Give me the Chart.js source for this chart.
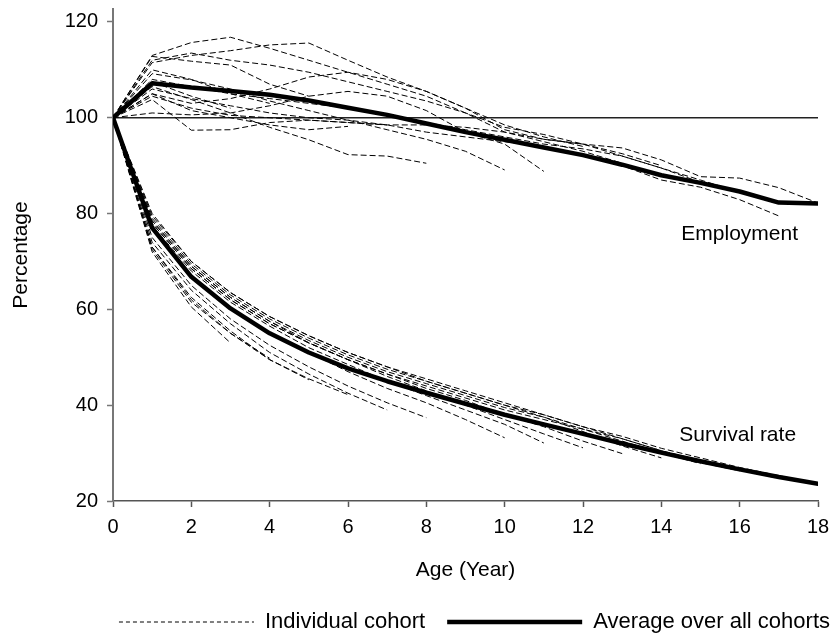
<!DOCTYPE html>
<html lang="en">
<head>
    <meta charset="UTF-8">
    <title>Survival rate and employment by cohort age</title>
    <script src="https://cdn.jsdelivr.net/npm/chart.js"></script>
    <style>
        html, body {
            margin: 0;
            padding: 0;
            background: #fff;
        }
        #wrap {
            width: 831px;
            height: 634px;
        }
    </style>
</head>
<body>
    <div id="wrap"><canvas id="chart" width="831" height="634"></canvas></div>

    <script>
        const years = [0, 1, 2, 3, 4, 5, 6, 7, 8, 9, 10, 11, 12, 13, 14, 15, 16, 17, 18];
        const yTicks = [20, 40, 60, 80, 100, 120];
        const xTicks = [0, 2, 4, 6, 8, 10, 12, 14, 16, 18];

        // survival rate of each cohort (%), one array per cohort, starting at age 0
        const survival18 = [100, 79, 69.5, 63, 58, 54, 50.5, 47.5, 45, 42.5, 40, 38, 35.5, 33.5, 31, 29, 27, 25.3, 23.6];
        const survival17 = [100, 78, 68.5, 62, 57, 53, 49.5, 46.5, 44, 41.5, 39, 37, 35, 33, 30.5, 28.5, 26.5, 24.7];
        const survival16 = [100, 80, 70, 63.5, 58.5, 54.5, 51, 48, 45.5, 43, 40.5, 38, 35.5, 33, 30.5, 28, 26.3];
        const survival15 = [100, 78.5, 69, 62.5, 57.5, 53.5, 50, 47, 44.5, 42, 39.5, 37.5, 35, 32.5, 30, 27.8];
        const survival14 = [100, 79.5, 70, 63.5, 58.5, 54.5, 51, 48, 45, 42.5, 40, 37.5, 34.5, 31.5, 29];
        const survival13 = [100, 78, 68.5, 62, 57, 53, 49.5, 46.5, 43.5, 41, 38, 35.5, 32.5, 29.9];
        const survival12 = [100, 78.5, 69, 62.5, 57.5, 53, 49.5, 46, 43, 40, 37, 34, 31.1];
        const survival11 = [100, 77.5, 68, 61.5, 56.5, 52, 48.5, 45, 42, 39, 36, 32.1];
        const survival10 = [100, 77, 67, 60.5, 55, 51, 47, 43.5, 40.5, 37, 33.2];
        const survival8 = [100, 75, 65, 58, 52.5, 48, 44, 40.5, 37.4];
        const survival7 = [100, 74, 64, 57, 51, 46.5, 42.5, 39];
        const survival6 = [100, 73, 62.5, 55.5, 49.5, 45.5, 42.2];
        const survival5 = [100, 73, 62, 55, 49.5, 45.3];
        const survival4 = [100, 72.5, 61.5, 55, 49.8];
        const survival3 = [100, 72, 60.5, 53];

        // employment of each cohort relative to age 0 (%)
        const employment18 = [100, 104.5, 102, 100.5, 100, 99.5, 99, 98.5, 98.5, 98, 97, 95.5, 94.5, 93.7, 91.2, 87.7, 87.4, 85.4, 82.2];
        const employment17 = [100, 106, 104, 102.5, 101, 100, 99.5, 98.5, 97, 96, 95, 94, 92, 90, 87, 85.5, 82.9, 79.5];
        const employment16 = [100, 108, 106.5, 105, 104, 103, 102, 100.5, 99, 97.5, 96, 94.5, 93.5, 92, 89.5, 87, 84.5];
        const employment15 = [100, 112, 113.5, 112, 111, 109.5, 107.5, 105.5, 103.5, 101, 98, 96.5, 94.5, 92, 89.5, 86.5];
        const employment14 = [100, 105, 103, 104, 106, 108.5, 109.5, 108, 105.5, 102, 97.5, 95.5, 94.5, 92.5, 90];
        const employment13 = [100, 113, 115.7, 116.8, 114.5, 112, 109.5, 107, 104.5, 101, 97, 95, 93, 90.5];
        const employment12 = [100, 111.5, 113, 114, 115.2, 115.6, 112, 108.5, 105.5, 102, 98.5, 96, 94];
        const employment11 = [100, 101, 100.6, 101, 102.5, 104.5, 105.5, 104.5, 101.5, 97, 94.5, 88.8];
        const employment10 = [100, 109.2, 107.9, 106, 103.5, 101.5, 99.5, 97.5, 95.5, 93, 89.1];
        const employment8 = [100, 106.5, 103.8, 101, 98, 95.4, 92.3, 92, 90.5];
        const employment7 = [100, 103.8, 97.4, 97.5, 99, 99.5, 99, 98.5];
        const employment6 = [100, 105, 101.5, 100, 98.5, 97.5, 98.2];
        const employment5 = [100, 112.8, 111.8, 111, 107, 104.5];
        const employment4 = [100, 110, 108, 105, 103];
        const employment3 = [100, 107.5, 104.5, 102];

        // averages over all cohorts
        const survivalAverage = [100, 77, 66.8, 60.2, 55, 51, 47.7, 45, 42.6, 40.3, 38, 36, 34, 32, 30.1, 28.3, 26.6, 25, 23.6];
        const employmentAverage = [100, 107.2, 106.3, 105.6, 104.8, 103.6, 102.1, 100.6, 98.8, 97, 95.4, 93.8, 92.2, 90.2, 88, 86.4, 84.6, 82.3, 82.1];

        const baseline = [100, 100];
        const baselineYears = [0, 18];

        const curveLabels = [
            { text: 'Employment', age: 16, value: 75.6 },
            { text: 'Survival rate', age: 15.95, value: 33.8 }
        ];

        const survivalCohorts = [survival18, survival17, survival16, survival15, survival14, survival13, survival12,
            survival11, survival10, survival8, survival7, survival6, survival5, survival4, survival3];
        const employmentCohorts = [employment18, employment17, employment16, employment15, employment14, employment13, employment12,
            employment11, employment10, employment8, employment7, employment6, employment5, employment4, employment3];

        const FONT = "'Liberation Sans', Arial, sans-serif";

        function toPoints(values, xs) {
            return values.map((v, i) => ({ x: (xs || years)[i], y: v }));
        }

        function cohortSet(values) {
            return {
                data: toPoints(values),
                borderColor: '#000',
                borderWidth: 1,
                borderDash: [6, 3],
                pointRadius: 0,
                tension: 0,
                order: 1
            };
        }

        function averageSet(values) {
            return {
                data: toPoints(values),
                borderColor: '#000',
                borderWidth: 4.5,
                borderCapStyle: 'round',
                borderJoinStyle: 'round',
                pointRadius: 0,
                tension: 0,
                order: 0
            };
        }

        const datasets = [];
        datasets.push({
            data: toPoints(baseline, baselineYears),
            borderColor: '#222',
            borderWidth: 1.5,
            pointRadius: 0,
            order: 2
        });
        employmentCohorts.forEach(c => datasets.push(cohortSet(c)));
        survivalCohorts.forEach(c => datasets.push(cohortSet(c)));
        datasets.push(averageSet(employmentAverage));
        datasets.push(averageSet(survivalAverage));

        // writes "Employment" / "Survival rate" next to their curves
        const curveLabelPlugin = {
            id: 'curveLabels',
            afterDatasetsDraw(chart) {
                const ctx = chart.ctx;
                const x = chart.scales.x, y = chart.scales.y;
                ctx.save();
                ctx.font = '21px ' + FONT;
                ctx.fillStyle = '#000';
                ctx.textAlign = 'center';
                ctx.textBaseline = 'middle';
                curveLabels.forEach(l => {
                    ctx.fillText(l.text, x.getPixelForValue(l.age), y.getPixelForValue(l.value));
                });
                ctx.restore();
            }
        };

        new Chart(document.getElementById('chart'), {
            type: 'line',
            data: { datasets: datasets },
            plugins: [curveLabelPlugin],
            options: {
                responsive: false,
                animation: false,
                events: [],
                layout: { padding: { top: 9, left: 0, right: -21, bottom: -9 } },
                plugins: {
                    tooltip: { enabled: false },
                    legend: {
                        position: 'bottom',
                        align: 'end',
                        labels: {
                            usePointStyle: true,
                            pointStyleWidth: 135,
                            padding: 22,
                            color: '#000',
                            font: { family: FONT, size: 22 },
                            generateLabels: () => [
                                { text: 'Individual cohort', pointStyle: 'line', strokeStyle: '#000', fillStyle: '#000',
                                  lineWidth: 1, lineDash: [4, 3], fontColor: '#000', hidden: false, datasetIndex: 1 },
                                { text: 'Average over all cohorts', pointStyle: 'line', strokeStyle: '#000', fillStyle: '#000',
                                  lineWidth: 4.5, lineDash: [], fontColor: '#000', hidden: false, datasetIndex: datasets.length - 1 }
                            ]
                        }
                    }
                },
                scales: {
                    x: {
                        type: 'linear',
                        min: 0,
                        max: 18,
                        afterBuildTicks: s => { s.ticks = xTicks.map(v => ({ value: v })); },
                        afterFit: s => { s.height = 88; s.paddingRight = 13; },
                        ticks: { color: '#000', padding: 8, font: { family: FONT, size: 20 } },
                        grid: { drawOnChartArea: false, drawTicks: true, tickLength: 6, color: '#555', tickWidth: 1.5 },
                        border: { color: '#555', width: 1.5 },
                        title: { display: true, text: 'Age (Year)', color: '#000', padding: { top: 0, bottom: 6 },
                                 font: { family: FONT, size: 21 } }
                    },
                    y: {
                        min: 20,
                        max: 122.7,
                        afterBuildTicks: s => { s.ticks = yTicks.map(v => ({ value: v })); },
                        afterFit: s => { s.width = 113; s.paddingTop = 0; s.paddingBottom = 0; },
                        ticks: { color: '#000', padding: 9, font: { family: FONT, size: 20 } },
                        grid: { drawOnChartArea: false, drawTicks: true, tickLength: 6, color: '#777', tickWidth: 1.5 },
                        border: { color: '#777', width: 2 },
                        title: { display: true, text: 'Percentage', color: '#000', padding: { top: 9, bottom: 0 },
                                 font: { family: FONT, size: 21 } }
                    }
                }
            }
        });
    </script>
</body>
</html>
